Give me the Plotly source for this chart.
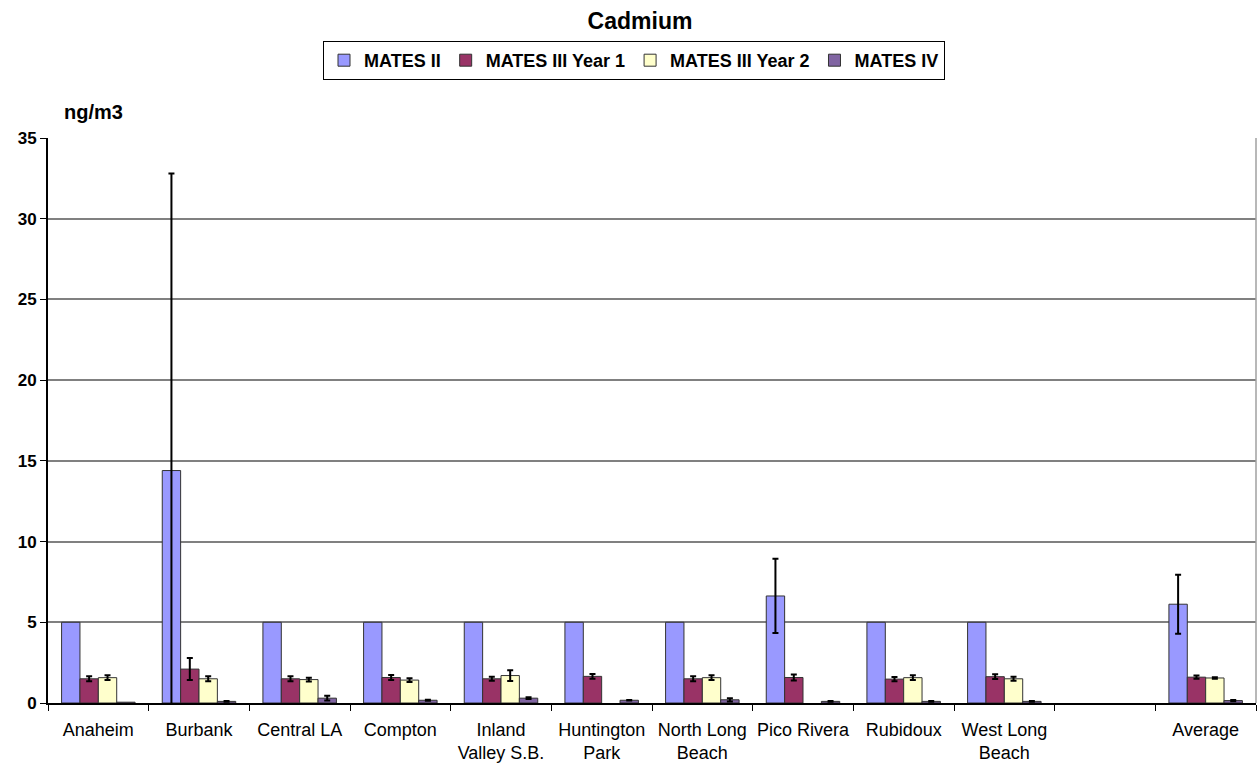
import plotly.graph_objects as go

categories = ["Anaheim", "Burbank", "Central LA", "Compton", "Inland<br>Valley S.B.",
              "Huntington<br>Park", "North Long<br>Beach", "Pico Rivera", "Rubidoux",
              "West Long<br>Beach", " ", "Average"]

mates2 = [5, 14.4, 5, 5, 5, 5, 5, 6.63, 5, 5, None, 6.12]
mates2_err = [None, 18.4, None, None, None, None, None, 2.3, None, None, None, 1.83]

mates3y1 = [1.5, 2.1, 1.5, 1.58, 1.5, 1.65, 1.5, 1.58, 1.48, 1.63, None, 1.6]
mates3y1_err = [0.15, 0.68, 0.15, 0.15, 0.12, 0.15, 0.15, 0.18, 0.13, 0.15, None, 0.1]

mates3y2 = [1.57, 1.5, 1.45, 1.42, 1.7, None, 1.57, None, 1.57, 1.5, None, 1.55]
mates3y2_err = [0.15, 0.15, 0.12, 0.12, 0.33, None, 0.15, None, 0.15, 0.12, None, 0.05]

mates4 = [0.05, 0.1, 0.3, 0.17, 0.3, 0.17, 0.2, 0.1, 0.1, 0.1, None, 0.15]
mates4_err = [None, 0.03, 0.15, 0.03, 0.05, 0.02, 0.1, 0.02, 0.02, 0.02, None, 0.04]

series = [
    ("MATES II", mates2, mates2_err, "#9999FF"),
    ("MATES III Year 1", mates3y1, mates3y1_err, "#993366"),
    ("MATES III Year 2", mates3y2, mates3y2_err, "#FFFFCC"),
    ("MATES IV", mates4, mates4_err, "#8064A2"),
]

font = "Liberation Sans, Arial, sans-serif"

fig = go.Figure()
for name, vals, errs, color in series:
    # non-numeric entries make plotly.js skip the error bar for that point
    err_arr = [e if e is not None else "none" for e in errs]
    fig.add_trace(go.Bar(
        x=categories, y=vals, name="<b>" + name + "</b>",
        marker=dict(color=color, line=dict(color="#333333", width=1)),
        error_y=dict(type="data", array=err_arr, visible=True, color="black",
                     thickness=2, width=3),
    ))

fig.update_layout(
    width=1259, height=765,
    paper_bgcolor="white", plot_bgcolor="white",
    barmode="group", bargap=0.27, bargroupgap=0,
    margin=dict(l=48, r=3, t=138, b=62),
    title=dict(text="<b>Cadmium</b>", x=(640 - 48) / 1208, xref="paper", xanchor="center",
               y=1 - 21 / 765, yanchor="middle",
               font=dict(family=font, size=23, color="black")),
    legend=dict(orientation="h", x=(634 - 48) / 1208, xanchor="center",
                y=1 + (138 - 41) / 565, yanchor="top",
                bordercolor="black", borderwidth=1,
                font=dict(family=font, size=18, color="black"),
                itemwidth=30, traceorder="normal"),
    font=dict(family=font, color="black"),
    showlegend=True,
)
fig.update_xaxes(
    showline=True, linecolor="black", linewidth=2,
    ticks="outside", tickson="boundaries", ticklen=6, tickcolor="black",
    tickangle=0, ticklabelstandoff=9,
    tickfont=dict(family=font, size=18, color="black"),
    showgrid=False, automargin=False,
)
fig.update_yaxes(
    range=[0, 35], dtick=5, tick0=0,
    showline=True, linecolor="black", linewidth=2,
    ticks="outside", ticklen=6, tickcolor="black",
    showgrid=True, gridcolor="#808080", gridwidth=1.5,
    tickfont=dict(family=font, size=17, color="black"),
    tickprefix="<b>", ticksuffix="</b>",
    zeroline=False, automargin=False,
)
fig.add_shape(type="line", xref="paper", yref="paper", x0=1, x1=1, y0=0, y1=1,
              line=dict(color="#A0A0A0", width=1.5))
fig.add_annotation(text="<b>ng/m3</b>", xref="paper", yref="paper",
                   x=(62 - 48) / 1208, y=1 + (138 - 112) / 565,
                   xanchor="left", yanchor="middle", showarrow=False,
                   font=dict(family=font, size=20, color="black"))
fig.write_html("out.html", post_script="document.body.style.margin='0';",
               config={"displayModeBar": False})
